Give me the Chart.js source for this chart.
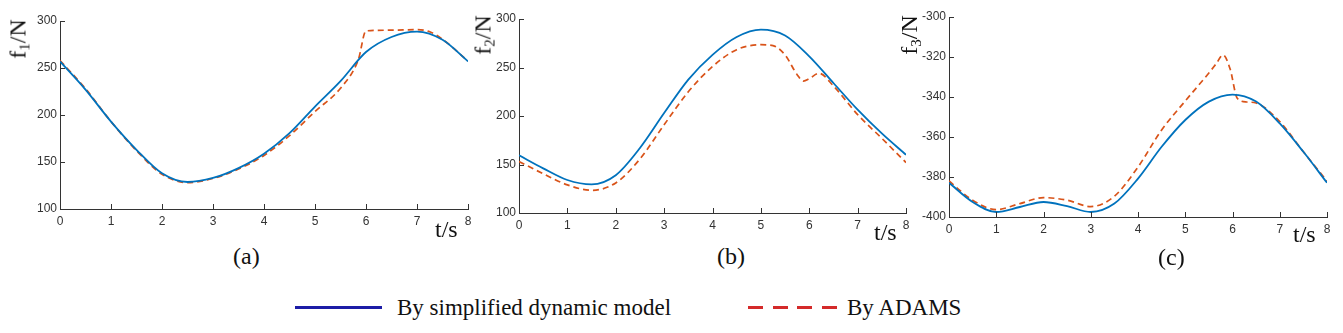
<!DOCTYPE html>
<html>
<head>
<meta charset="utf-8">
<script src="https://cdn.jsdelivr.net/npm/chart.js@4.4.1/dist/chart.umd.min.js"></script>
<style>
  body { margin: 0; background: #fff; }
  #page { position: relative; width: 1343px; height: 333px; overflow: hidden; background: #fff; }
  canvas { position: absolute; top: 0; }
  .serif { position: absolute; font-family: "Liberation Serif", "Times New Roman", serif; color: #111; white-space: nowrap; line-height: 1; }
  .ylab { font-size: 24px; transform: translate(-50%, -50%) rotate(-90deg); }
  .ylab sub { font-size: 15px; vertical-align: -4px; }
  .xlab { font-size: 24px; }
  .cap { font-size: 24px; }
  .legtext { font-size: 23px; }
  .legline { position: absolute; height: 3px; }
</style>
</head>
<body>
<div id="page">
  <canvas id="chartA" width="480" height="240" style="left:0px"></canvas>
  <canvas id="chartB" width="455" height="240" style="left:460px"></canvas>
  <canvas id="chartC" width="453" height="240" style="left:890px"></canvas>

  <div class="serif ylab" style="left:19px; top:39px">f<sub>1</sub>/N</div>
  <div class="serif ylab" style="left:484px; top:35px">f<sub>2</sub>/N</div>
  <div class="serif ylab" style="left:910px; top:35px">f<sub>3</sub>/N</div>

  <div class="serif xlab" style="left:435px; top:217px">t/s</div>
  <div class="serif xlab" style="left:874px; top:220px">t/s</div>
  <div class="serif xlab" style="left:1293px; top:222px">t/s</div>

  <div class="serif cap" style="left:233px; top:244px">(a)</div>
  <div class="serif cap" style="left:717px; top:244px">(b)</div>
  <div class="serif cap" style="left:1158px; top:245px">(c)</div>

  <div class="legline" style="left:295px; top:306px; width:87px; background:#1c1ca6"></div>
  <div class="serif legtext" style="left:397px; top:296px">By simplified dynamic model</div>
  <div class="legline" style="left:748px; top:306px; width:89px; background:repeating-linear-gradient(to right, #d42a2a 0 15px, transparent 15px 24.7px)"></div>
  <div class="serif legtext" style="left:847px; top:296px">By ADAMS</div>
</div>

<script>
// time samples (s)
const tModel = [0, 0.5, 1, 1.5, 2, 2.5, 3, 3.5, 4, 4.5, 5, 5.5, 6, 6.5, 7, 7.5, 8];

// (a) f1 / N
const f1Model = [257, 227, 193, 163, 138, 128.7, 133, 143.5, 158.8, 180.7, 209, 236, 267, 283, 288.7, 280, 257];
const tAdams1 = [0, 0.5, 1, 1.5, 2, 2.5, 3, 3.5, 4, 4.5, 5, 5.5, 5.85, 6.0, 6.5, 7, 7.25, 7.5, 8];
const f1Adams = [258, 228, 193, 162, 137, 128, 132.5, 142.5, 157, 178, 203.7, 228.5, 259, 289.5, 290.2, 290.8, 288.5, 280.5, 257.5];

// (b) f2 / N
const f2Model = [159.5, 146, 134, 129.5, 139, 167, 203, 237.5, 263, 281.4, 289, 283, 261.5, 234, 206.5, 182, 160];
const tAdams2 = [0, 0.5, 1, 1.5, 2, 2.5, 3, 3.5, 4, 4.5, 5, 5.25, 5.5, 5.75, 5.88, 6.0, 6.2, 6.5, 7, 7.5, 8];
const f2Adams = [153, 140.5, 129, 123.4, 131, 155.7, 191, 225, 251, 268.4, 273.5, 272.5, 263, 242.6, 236, 238.5, 244, 231, 201.4, 177, 152];

// (c) f3 / N
const f3Model = [-382.9, -392.5, -397.5, -395, -392.5, -394.6, -397.5, -393.3, -380.8, -364.9, -351.5, -342.3, -338.8, -342.3, -353.2, -367.4, -382.9];
const tAdams3 = [0, 0.5, 1, 1.5, 2, 2.5, 3, 3.5, 4, 4.5, 5, 5.5, 5.65, 5.8, 5.95, 6.1, 6.3, 6.5, 7, 7.5, 8];
const f3Adams = [-382, -391.6, -396.3, -393.3, -390.3, -391.6, -394.8, -389.6, -375, -356.5, -342, -328, -323.5, -319, -326, -340.6, -342.5, -343, -352.3, -367.4, -382];

const MODEL_COLOR = '#0072BD';
const ADAMS_COLOR = '#D95319';
const AXIS_COLOR = '#333333';

const toPoints = (xs, ys) => xs.map((x, i) => ({ x: x, y: ys[i] }));

// MATLAB-style tick marks pointing into the plot
const inwardTicks = {
    id: 'inwardTicks',
    afterDraw(chart) {
        const { ctx, chartArea, scales: { x, y } } = chart;
        ctx.save();
        ctx.strokeStyle = AXIS_COLOR;
        ctx.lineWidth = 1;
        ctx.beginPath();
        x.ticks.forEach(t => {
            const px = Math.round(x.getPixelForValue(t.value)) + 0.5;
            ctx.moveTo(px, chartArea.bottom);
            ctx.lineTo(px, chartArea.bottom - 5);
        });
        y.ticks.forEach(t => {
            const py = Math.round(y.getPixelForValue(t.value)) + 0.5;
            ctx.moveTo(chartArea.left, py);
            ctx.lineTo(chartArea.left + 5, py);
        });
        ctx.stroke();
        ctx.restore();
    }
};

function makeChart(id, cfg) {
    const ctx = document.getElementById(id).getContext('2d');
    return new Chart(ctx, {
        type: 'line',
        data: {
            datasets: [{
                label: 'By simplified dynamic model',
                data: toPoints(tModel, cfg.model),
                borderColor: MODEL_COLOR,
                borderWidth: 1.8,
                pointRadius: 0,
                cubicInterpolationMode: 'monotone',
                fill: false
            }, {
                label: 'By ADAMS',
                data: toPoints(cfg.adamsT, cfg.adams),
                borderColor: ADAMS_COLOR,
                borderWidth: 1.7,
                borderDash: [6, 4],
                pointRadius: 0,
                cubicInterpolationMode: 'monotone',
                fill: false
            }]
        },
        options: {
            responsive: false,
            animation: false,
            devicePixelRatio: 1,
            layout: { autoPadding: false, padding: cfg.padding },
            plugins: { legend: { display: false }, tooltip: { enabled: false } },
            scales: {
                x: {
                    type: 'linear', min: 0, max: 8,
                    afterFit: s => { s.height = 20; },
                    ticks: { stepSize: 1, color: AXIS_COLOR, padding: 5, font: { family: 'Liberation Sans, Arial', size: 12 } },
                    grid: { display: false, drawTicks: false },
                    border: { color: AXIS_COLOR, width: 1 }
                },
                y: {
                    min: cfg.yMin, max: cfg.yMax,
                    afterFit: s => { s.width = cfg.yWidth; },
                    ticks: { stepSize: cfg.yStep, color: AXIS_COLOR, padding: 3, font: { family: 'Liberation Sans, Arial', size: 12 } },
                    grid: { display: false, drawTicks: false },
                    border: { color: AXIS_COLOR, width: 1 }
                }
            }
        },
        plugins: [inwardTicks]
    });
}

makeChart('chartA', {
    model: f1Model, adamsT: tAdams1, adams: f1Adams,
    yMin: 100, yMax: 300, yStep: 50, yWidth: 60,
    padding: { left: 0, top: 21, right: 12, bottom: 11 }
});
makeChart('chartB', {
    model: f2Model, adamsT: tAdams2, adams: f2Adams,
    yMin: 100, yMax: 300, yStep: 50, yWidth: 59,
    padding: { left: 0, top: 19, right: 9, bottom: 7 }
});
makeChart('chartC', {
    model: f3Model, adamsT: tAdams3, adams: f3Adams,
    yMin: -400, yMax: -300, yStep: 20, yWidth: 59,
    padding: { left: 0, top: 17, right: 16, bottom: 3 }
});
</script>
</body>
</html>
